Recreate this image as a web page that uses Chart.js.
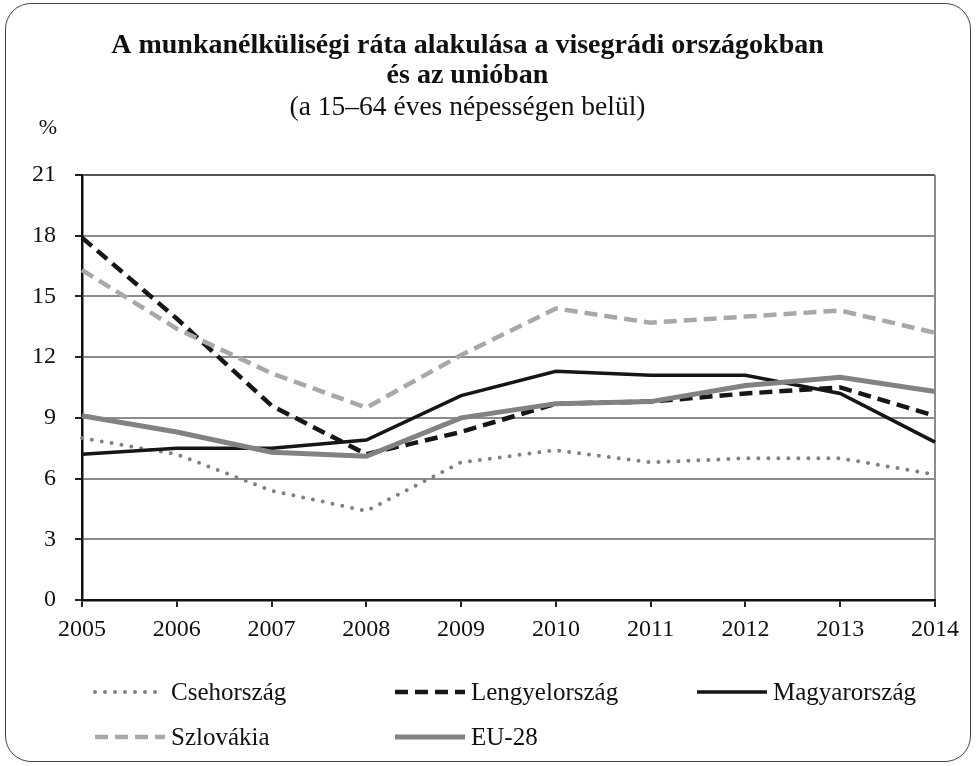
<!DOCTYPE html>
<html lang="hu">
<head>
<meta charset="utf-8">
<title>Munkanélküliségi ráta</title>
<script src="https://cdn.jsdelivr.net/npm/chart.js@4.4.1/dist/chart.umd.min.js"></script>
<style>
  html, body { margin: 0; padding: 0; background: #fff; }
  #doboz { position: relative; width: 977px; height: 766px; }
  #keret {
    position: absolute; left: 5px; top: 3px; width: 964px; height: 757px;
    border: 1.5px solid #444; border-radius: 26px; pointer-events: none;
  }
  canvas { position: absolute; left: 0; top: 0; }
</style>
</head>
<body>
<div id="doboz">
  <canvas id="grafikon" width="977" height="766"></canvas>
  <div id="keret"></div>
</div>
<script>
// Adatok (%, 15–64 évesek)
const evek = ["2005", "2006", "2007", "2008", "2009", "2010", "2011", "2012", "2013", "2014"];
const csehorszag    = [8.0, 7.2, 5.4, 4.4, 6.8, 7.4, 6.8, 7.0, 7.0, 6.2];
const lengyelorszag = [17.9, 13.9, 9.6, 7.2, 8.3, 9.7, 9.8, 10.2, 10.5, 9.1];
const magyarorszag  = [7.2, 7.5, 7.5, 7.9, 10.1, 11.3, 11.1, 11.1, 10.2, 7.8];
const szlovakia     = [16.3, 13.4, 11.2, 9.5, 12.1, 14.4, 13.7, 14.0, 14.3, 13.2];
const eu28          = [9.1, 8.3, 7.3, 7.1, 9.0, 9.7, 9.8, 10.6, 11.0, 10.3];

const betu = "'Liberation Serif', 'Times New Roman', serif";

// Saját jelmagyarázat: oszlopokba rendezve, mint az eredetin
const jelmagyarazatHely = [[95, 692], [395, 692], [697, 692], [95, 737], [395, 737]];
const sajatJelmagyarazat = {
  id: "sajatJelmagyarazat",
  afterDraw(chart) {
    const ctx = chart.ctx;
    chart.data.datasets.forEach((ds, i) => {
      const [x, y] = jelmagyarazatHely[i];
      ctx.save();
      ctx.strokeStyle = ds.borderColor;
      ctx.lineWidth = ds.borderWidth;
      ctx.lineCap = ds.borderCapStyle || "butt";
      ctx.setLineDash(ds.borderDash || []);
      ctx.beginPath();
      ctx.moveTo(x, y);
      ctx.lineTo(x + 70, y);
      ctx.stroke();
      ctx.setLineDash([]);
      ctx.fillStyle = "#111";
      ctx.font = "25px " + betu;
      ctx.textBaseline = "middle";
      ctx.fillText(ds.label, x + 76, y + 1);
      ctx.restore();
    });
    // "%" felirat a tengely fölött
    ctx.save();
    ctx.fillStyle = "#111";
    ctx.font = "22px " + betu;
    ctx.textAlign = "center";
    ctx.textBaseline = "middle";
    ctx.fillText("%", 48, 128);
    ctx.restore();
  }
};

const ctx = document.getElementById("grafikon").getContext("2d");

new Chart(ctx, {
  type: "line",
  data: {
    labels: evek,
    datasets: [
      {
        label: "Csehország", data: csehorszag,
        borderColor: "#808080", borderWidth: 4, borderDash: [0, 10], borderCapStyle: "round",
        order: 5
      },
      {
        label: "Lengyelország", data: lengyelorszag,
        borderColor: "#161616", borderWidth: 4.5, borderDash: [13, 7],
        order: 4
      },
      {
        label: "Magyarország", data: magyarorszag,
        borderColor: "#161616", borderWidth: 3.5,
        order: 3
      },
      {
        label: "Szlovákia", data: szlovakia,
        borderColor: "#a8a8a8", borderWidth: 4.5, borderDash: [13, 7],
        order: 2
      },
      {
        label: "EU-28", data: eu28,
        borderColor: "#828282", borderWidth: 5,
        order: 1
      }
    ]
  },
  options: {
    responsive: false,
    animation: false,
    elements: {
      point: { radius: 0, hoverRadius: 0 },
      line: { tension: 0, fill: false }
    },
    layout: { padding: { top: 0, right: 42, bottom: 121, left: 0 } },
    plugins: {
      legend: { display: false },
      tooltip: { enabled: false },
      title: {
        display: true,
        text: ["A munkanélküliségi ráta alakulása a visegrádi országokban", "és az unióban"],
        color: "#111",
        font: { family: betu, size: 28, weight: "bold", lineHeight: 1.07 },
        padding: { top: 31, bottom: 0 }
      },
      subtitle: {
        display: true,
        text: "(a 15–64 éves népességen belül)",
        color: "#111",
        font: { family: betu, size: 27.5, lineHeight: 1.09 },
        padding: { top: 2, bottom: 52 }
      }
    },
    scales: {
      y: {
        min: 0,
        max: 21,
        ticks: {
          stepSize: 3,
          color: "#111",
          padding: 19,
          font: { family: betu, size: 24 }
        },
        grid: {
          color: (c) => (c.tick && c.tick.value === 21 ? "#555" : "#8c8c8c"),
          lineWidth: 2,
          tickColor: "#222",
          tickLength: 7
        },
        border: { color: "#111", width: 2.5 },
        afterFit: (scale) => { scale.width = 82; }
      },
      x: {
        offset: false,
        ticks: {
          color: "#111",
          padding: 8,
          maxRotation: 0,
          font: { family: betu, size: 24 }
        },
        grid: {
          color: (c) => (c.index === evek.length - 1 ? "#8c8c8c" : "rgba(0,0,0,0)"),
          lineWidth: 2,
          tickColor: "#222",
          tickLength: 7
        },
        border: { color: "#111", width: 2.5 },
        afterFit: (scale) => { scale.height = 45; }
      }
    }
  },
  plugins: [sajatJelmagyarazat]
});
</script>
</body>
</html>
